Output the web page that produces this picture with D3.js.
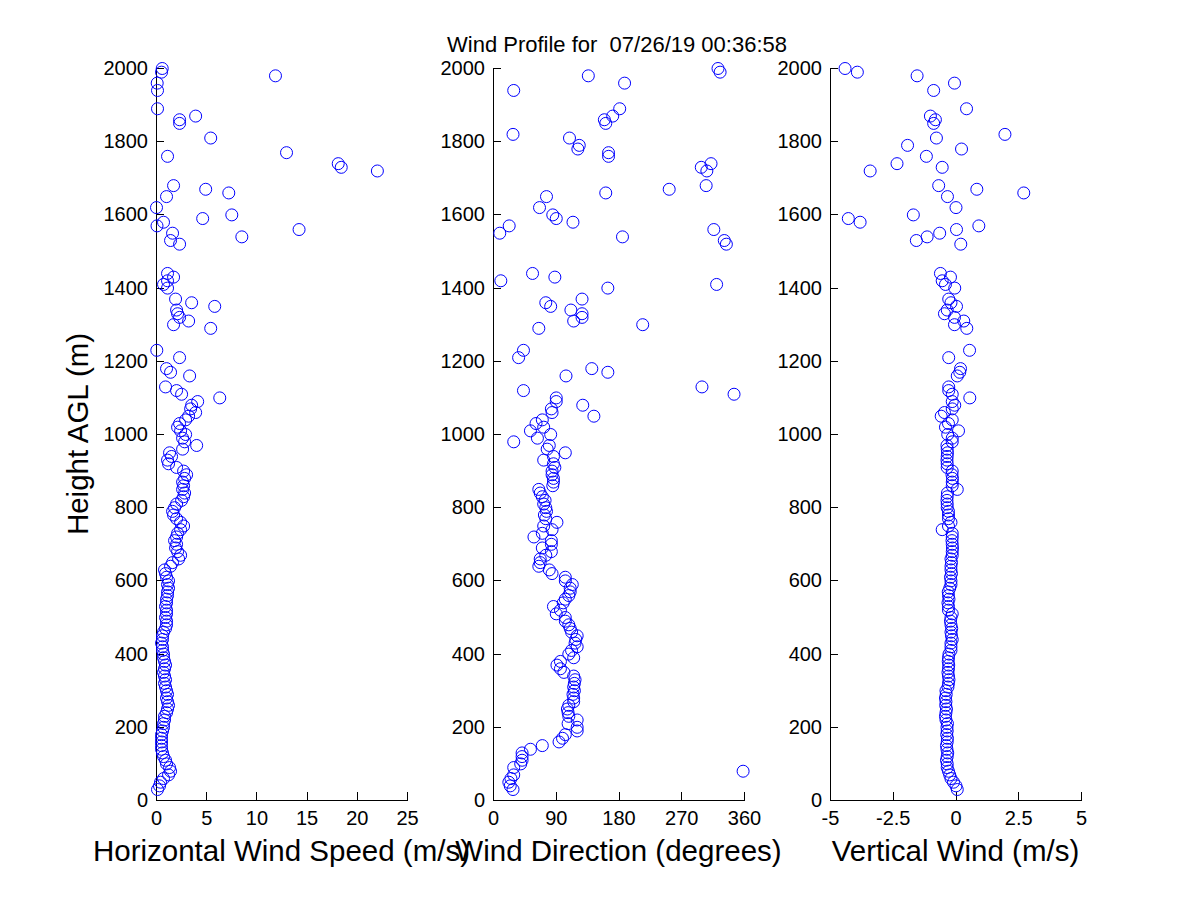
<!DOCTYPE html>
<html>
<head>
<meta charset="utf-8">
<script src="https://cdn.jsdelivr.net/npm/d3@7"></script>
<style>
  html, body { margin: 0; padding: 0; background: #fff; }
  svg { display: block; font-family: "Liberation Sans", Arial, sans-serif; }
  .tick text { font-size: 20px; fill: #000; }
  .tick line, .domain { stroke: #000; stroke-width: 1; shape-rendering: crispEdges; }
</style>
</head>
<body>
<script>
// Heights (m AGL) of each range gate, shared by all three panels
const heights = [
  30, 40, 50, 60, 70, 80, 90, 100, 110, 120,
  130, 140, 150, 160, 170, 180, 190, 200, 210, 220,
  230, 240, 250, 260, 270, 280, 290, 300, 310, 320,
  330, 340, 350, 360, 370, 380, 390, 400, 410, 420,
  430, 440, 450, 460, 470, 480, 490, 500, 510, 520,
  530, 540, 550, 560, 570, 580, 590, 600, 610, 620,
  630, 640, 650, 660, 670, 680, 690, 700, 710, 720,
  730, 740, 750, 760, 770, 780, 790, 800, 810, 820,
  830, 840, 850, 860, 870, 880, 890, 900, 910, 920,
  930, 940, 950, 960, 970, 980, 990, 1000, 1010, 1020,
  1030, 1040, 1050, 1060, 1070, 1080, 1090, 1100,
  1110, 1120, 1130, 1160, 1170, 1180, 1210, 1230, 1290, 1300,
  1310, 1320, 1330, 1340, 1350, 1360, 1370, 1400, 1410, 1420,
  1430, 1440, 1520, 1530, 1540, 1550, 1560, 1570, 1580, 1590,
  1600, 1620, 1650, 1660, 1670, 1680, 1720, 1730, 1740, 1760,
  1770, 1780, 1790, 1810, 1820, 1850, 1860, 1870, 1890, 1940,
  1960, 1980, 1990, 2000
];

// Horizontal wind speed (m/s)
const speed = [
  0.1, 0.3, 0.4, 0.7, 1.2, 1.4, 1.3, 1.0, 0.9, 0.7,
  0.6, 0.5, 0.5, 0.5, 0.5, 0.5, 0.6, 0.7, 0.7, 0.8,
  0.8, 1.0, 1.1, 1.2, 1.1, 1.0, 1.1, 1.0, 0.9, 0.8,
  0.9, 0.8, 0.7, 0.8, 0.9, 0.8, 0.7, 0.7, 0.6, 0.6,
  0.5, 0.6, 0.6, 0.7, 0.9, 1.0, 1.0, 0.9, 1.0, 1.0,
  0.9, 1.0, 1.0, 1.1, 1.1, 1.2, 1.1, 1.2, 1.0, 0.9,
  0.8, 1.4, 1.6, 2.2, 2.4, 2.1, 1.9, 2.0, 1.8, 2.0,
  2.1, 2.4, 2.7, 2.4, 2.0, 1.7, 1.6, 1.8, 2.0, 2.5,
  2.7, 2.8, 2.6, 2.7, 2.6, 2.8, 3.0, 2.7, 2.0, 1.2,
  1.1, 1.5, 1.3, 2.6, 4.0, 2.8, 2.6, 2.9, 2.4, 2.1,
  2.3, 2.9, 3.2, 3.9, 3.4, 3.5, 4.1, 6.3,
  2.5, 2.0, 0.9, 3.3, 1.4, 1.0, 2.3, 0.03, 5.4, 1.7,
  3.2, 2.3, 2.1, 2.0, 5.8, 3.5, 1.9, 1.1, 0.7, 1.1,
  1.7, 1.1, 2.3, 1.4, 8.5, 1.6, 14.2, 0.05, 0.7, 4.6,
  7.5, 0.0, 1.0, 7.2, 4.9, 1.7, 22.0, 18.4, 18.1, 1.1,
  12.95, null, null, 5.4, null, 2.3, 2.3, 3.9, 0.1, 0.1,
  0.07, 11.85, 0.5, 0.57
];

// Wind direction (degrees)
const direction = [
  28, 24, 22, 25, 29, 358, 29, 39, 41, 41,
  41, 53, 70, 94, 99, 103, 120, 120, 107, 120,
  108, 107, 106, 108, 115, 115, 114, 116, 115, 116,
  117, 115, 101, 96, 91, 96, 115, 108, 112, 120,
  117, 118, 120, 112, 110, 108, 103, 103, 90, 96,
  86, 100, 103, 108, 110, 110, 113, 103, 103, 84,
  80, 65, 67, 67, 75, 83, 70, 83, 83, 58,
  70, 84, 72, 91, 75, 73, 76, 75, 72, 74,
  70, 67, 65, 85, 86, 86, 84, 84, 88, 86,
  72, 86, 103, 77, 80, 29, 63, 82, 53, 72,
  61, 70, 144, 84, 83, 128, 90, 90,
  345, 43, 299, 104, 164, 141, 36, 43, 65, 214,
  115, 127, 127, 111, 82, 75, 127, 164, 320, 10.5,
  88, 56, 334, 331, 185, 9, 316, 22.5, 114, 90,
  85, 66, 76, 161, 252, 305, 306, 298, 312, 165,
  165, 121, 123, 109, 28, 161, 159, 171, 181, 29,
  188, 136, 325, 322
];

// Vertical wind (m/s)
const vertical = [
  0.05, 0.0, -0.1, -0.2, -0.25, -0.3, -0.35, -0.35, -0.38, -0.35,
  -0.33, -0.36, -0.38, -0.35, -0.34, -0.37, -0.35, -0.36, -0.34, -0.4,
  -0.42, -0.4, -0.38, -0.41, -0.4, -0.42, -0.39, -0.4, -0.32, -0.3,
  -0.28, -0.3, -0.32, -0.3, -0.29, -0.31, -0.3, -0.28, -0.2, -0.2,
  -0.2, -0.15, -0.18, -0.2, -0.17, -0.2, -0.22, -0.2, -0.15, -0.3,
  -0.3, -0.32, -0.28, -0.3, -0.31, -0.25, -0.2, -0.2, -0.22, -0.18,
  -0.2, -0.2, -0.18, -0.2, -0.15, -0.15, -0.14, -0.15, -0.16, -0.15,
  -0.15, -0.55, -0.3, -0.2, -0.3, -0.3, -0.3, -0.35, -0.35, -0.36,
  -0.35, -0.34, 0.05, -0.15, -0.15, -0.14, -0.16, -0.15, -0.35, -0.35,
  -0.36, -0.35, -0.34, -0.35, -0.36, -0.15, -0.15, -0.33, 0.1, -0.42,
  -0.3, -0.15, -0.59, -0.46, -0.15, -0.05, -0.15, 0.55,
  -0.15, -0.29, -0.29, 0.05, 0.15, 0.18, -0.29, 0.54, 0.43, -0.06,
  0.31, -0.06, -0.46, -0.35, 0.02, -0.2, -0.29, -0.05, -0.42, -0.55,
  -0.22, -0.62, 0.19, -1.58, -1.15, -0.65, 0.02, 0.91, -3.82, -4.29,
  -1.7, 0.0, -0.34, 2.7, 0.83, -0.69, -3.42, -0.55, -2.35, -1.18,
  null, 0.22, -1.93, -0.78, 1.95, -0.89, -0.82, -1.02, 0.42, -0.89,
  -0.06, -1.55, -3.93, -4.42
];

// Tick labels
const heightTicks = [0, 200, 400, 600, 800, 1000, 1200, 1400, 1600, 1800, 2000];
const speedTicks = [0, 5, 10, 15, 20, 25];
const directionTicks = [0, 90, 180, 270, 360];
const verticalTicks = [-5, -2.5, 0, 2.5, 5];

const titleText = "Wind Profile for  07/26/19 00:36:58";
const yLabel = "Height AGL (m)";

const panels = [
  { values: speed, domain: [0, 25], ticks: speedTicks, left: 156, label: "Horizontal Wind Speed (m/s)" },
  { values: direction, domain: [0, 360], ticks: directionTicks, left: 493, label: "Wind Direction (degrees)" },
  { values: vertical, domain: [-5, 5], ticks: verticalTicks, left: 830, label: "Vertical Wind (m/s)" }
];

const W = 1200, H = 900;
const panelWidth = 251;
const plotTop = 68, plotBottom = 800;

const svg = d3.select("body").append("svg")
  .attr("width", W).attr("height", H)
  .attr("viewBox", `0 0 ${W} ${H}`);

svg.append("rect").attr("width", W).attr("height", H).attr("fill", "#fff");

const y = d3.scaleLinear().domain([0, 2000]).range([plotBottom, plotTop]);

panels.forEach(p => {
  const x = d3.scaleLinear().domain(p.domain).range([0, panelWidth]);
  const g = svg.append("g").attr("transform", `translate(${p.left},0)`);

  // y axis
  g.append("g")
    .call(d3.axisLeft(y).tickValues(heightTicks).tickSizeInner(-8).tickSizeOuter(0)
      .tickPadding(8).tickFormat(d => String(d)))
    .call(a => a.selectAll("text").style("font-size", "20px"));

  // x axis
  g.append("g")
    .attr("transform", `translate(0,${plotBottom})`)
    .call(d3.axisBottom(x).tickValues(p.ticks).tickSizeInner(-8).tickSizeOuter(0)
      .tickPadding(11).tickFormat(d => String(d)))
    .call(a => a.selectAll("text").style("font-size", "20px"));

  // markers
  const pts = heights.map((h, i) => ({ h, v: p.values[i] })).filter(d => d.v !== null);
  g.append("g").selectAll("circle").data(pts).join("circle")
    .attr("cx", d => x(d.v) + 0.5)
    .attr("cy", d => y(d.h) + 0.5)
    .attr("r", 6)
    .attr("fill", "none")
    .attr("stroke", "#0000ff")
    .attr("stroke-width", 1);

  // x label
  svg.append("text")
    .attr("x", p.left + panelWidth / 2)
    .attr("y", 861)
    .attr("text-anchor", "middle")
    .style("font-size", "29.5px")
    .text(p.label);
});

// y label
svg.append("text")
  .attr("transform", `translate(88,${(plotTop + plotBottom) / 2}) rotate(-90)`)
  .attr("text-anchor", "middle")
  .style("font-size", "29.5px")
  .text(yLabel);

// title
svg.append("text")
  .attr("x", 617)
  .attr("y", 52)
  .attr("text-anchor", "middle")
  .style("font-size", "22px")
  .style("white-space", "pre")
  .text(titleText);
</script>
</body>
</html>
